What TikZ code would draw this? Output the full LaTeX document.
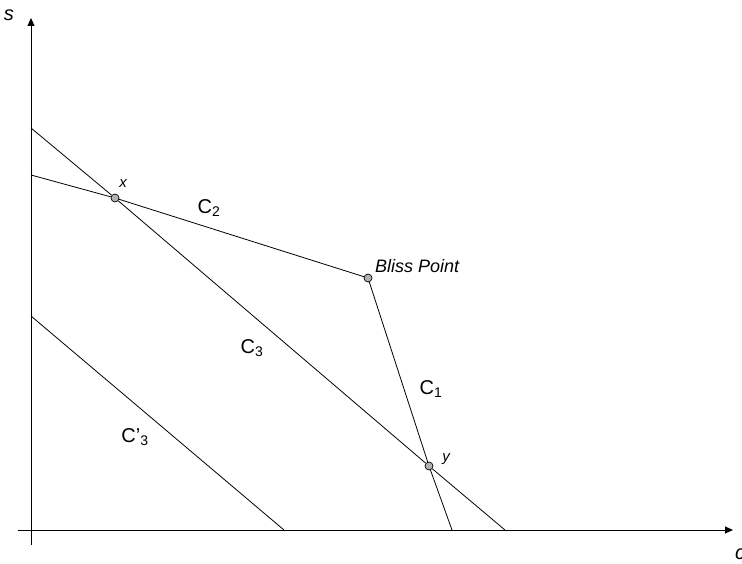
\documentclass[tikz,border=0pt]{standalone}
\usepackage{fontspec}
\setmainfont{Liberation Sans}
\usetikzlibrary{arrows.meta}
\begin{document}
\begin{tikzpicture}[x=1pt,y=-1pt,
  axis/.style={line width=0.9pt,-{Triangle[length=8pt,width=7pt]}},
  ln/.style={line width=0.8pt},
  pt/.style={circle,draw,fill=gray!60,inner sep=0pt,minimum size=8pt,line width=0.7pt},
  lab/.style={font=\fontsize{20}{22}\selectfont,inner sep=0pt},
  ilab/.style={font=\itshape\fontsize{15}{17}\selectfont,inner sep=0pt}]
\useasboundingbox (0,0) rectangle (742,564);
% axes
\coordinate (yb) at (31,545);
\coordinate (yt) at (31,18);
\coordinate (xl) at (18,530);
\coordinate (xr) at (733,530);
\draw[axis] (yb) -- (yt);
\draw[axis] (xl) -- (xr);
\node[ilab,font=\itshape\fontsize{20}{22}\selectfont] (s) at (9,15) {s};
\node[ilab,font=\itshape\fontsize{20}{22}\selectfont,anchor=west] (c) at (735,554) {c};
% points
\node[pt] (x) at (115,198) {};
\node[pt] (b) at (368,278) {};
\node[pt] (y) at (429,466) {};
\coordinate (c3a) at (31,128);
\coordinate (c3b) at (505,530);
\coordinate (c2a) at (31,175);
\coordinate (c1b) at (452,530);
\coordinate (c3pa) at (31,316);
\coordinate (c3pb) at (284,530);
\draw[ln] (c3a) -- (x) -- (y) -- (c3b);
\draw[ln] (c2a) -- (x) -- (b);
\draw[ln] (b) -- (y) -- (c1b);
\draw[ln] (c3pa) -- (c3pb);
% labels
\node[ilab] (xl2) at (123,184) {x};
\node[ilab] (yl2) at (446,459) {y};
\node[ilab,anchor=west,font=\itshape\fontsize{18}{20}\selectfont] (bl) at (375,266) {Bliss Point};
\node[lab] (C2) at (209,208) {C\textsubscript{2}};
\node[lab] (C3) at (252,348) {C\textsubscript{3}};
\node[lab] (C1) at (431,389) {C\textsubscript{1}};
\node[lab] (C3p) at (135,437) {C'\textsubscript{3}};
\end{tikzpicture}
\end{document}
